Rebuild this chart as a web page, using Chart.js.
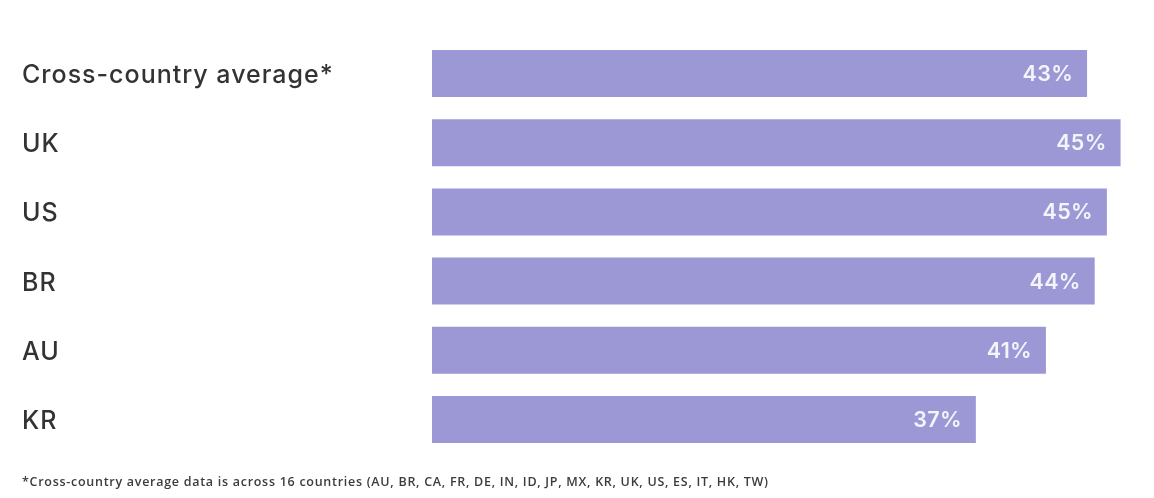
<!DOCTYPE html>
<html>
<head>
<meta charset="utf-8">
<script src="https://cdn.jsdelivr.net/npm/chart.js@4"></script>
<style>
  html, body { margin: 0; padding: 0; background: #ffffff; }
  #wrap { position: relative; width: 1154px; height: 498px; }
  #note { position: absolute; left: 22px; top: 473px; font-family: "Open Sans", sans-serif; font-size: 12.5px; font-weight: 600; color: #3c3c3c; letter-spacing: 0.72px; white-space: nowrap; }
</style>
</head>
<body>
<div id="wrap">
  <canvas id="c" width="1154" height="498"></canvas>
  <div id="note">*Cross-country average data is across 16 countries (AU, BR, CA, FR, DE, IN, ID, JP, MX, KR, UK, US, ES, IT, HK, TW)</div>
</div>
<script>
const categories = ["Cross-country average*", "UK", "US", "BR", "AU", "KR"];
const barValues = [43, 45.2, 44.3, 43.5, 40.3, 35.7];
const valueLabels = ["43%", "45%", "45%", "44%", "41%", "37%"];

const spacingPlugin = {
  id: 'spacing',
  beforeDraw(chart) { chart.ctx.letterSpacing = '1px'; }
};

const valueLabelPlugin = {
  id: 'valueLabels',
  afterDatasetsDraw(chart) {
    const ctx = chart.ctx;
    const meta = chart.getDatasetMeta(0);
    ctx.save();
    ctx.letterSpacing = '0.3px';
    ctx.font = '600 21.5px Inter, "Noto Sans", sans-serif';
    ctx.fillStyle = '#f4f4fb';
    ctx.textAlign = 'right';
    ctx.textBaseline = 'middle';
    meta.data.forEach((bar, i) => {
      ctx.fillText(valueLabels[i], bar.x - 14, bar.y + 1);
    });
    ctx.restore();
  }
};

new Chart(document.getElementById('c'), {
  type: 'bar',
  data: {
    labels: categories,
    datasets: [{
      data: barValues,
      backgroundColor: '#9b98d5',
      borderWidth: 0,
      categoryPercentage: 1,
      barPercentage: 0.68
    }]
  },
  options: {
    indexAxis: 'y',
    responsive: false,
    animation: false,
    devicePixelRatio: 1,
    layout: { padding: { left: 22, right: 6, top: 39, bottom: 44 } },
    plugins: { legend: { display: false }, tooltip: { enabled: false } },
    scales: {
      x: { display: false, min: 0, max: 47 },
      y: {
        grid: { display: false },
        border: { display: false },
        afterFit(scale) { scale.width = 410; },
        ticks: {
          crossAlign: 'far',
          color: '#333333',
          padding: 0,
          labelOffset: 2,
          font: { family: 'Inter, "Noto Sans", sans-serif', size: 25, weight: '500' }
        }
      }
    }
  },
  plugins: [spacingPlugin, valueLabelPlugin]
});
</script>
</body>
</html>
